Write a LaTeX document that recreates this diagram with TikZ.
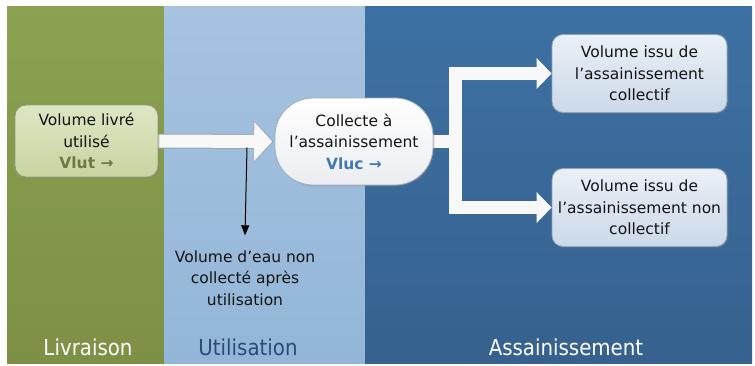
\documentclass[tikz,border=0pt]{standalone}
\usepackage{fontspec}
\setmainfont{DejaVu Sans}
\newfontfamily\labelfont[FakeStretch=0.9]{DejaVu Sans}
\usetikzlibrary{arrows.meta,calc,shadows}
\pgfdeclarelayer{bg}\pgfdeclarelayer{arr}
\pgfsetlayers{bg,arr,main}
\definecolor{greenT}{HTML}{8CA151}
\definecolor{greenB}{HTML}{7D9045}
\definecolor{lblueT}{HTML}{A6C3E0}
\definecolor{lblueB}{HTML}{93B6D8}
\definecolor{dblueT}{HTML}{3D71A3}
\definecolor{dblueB}{HTML}{36618E}
\definecolor{livreT}{HTML}{DDE6C4}
\definecolor{livreB}{HTML}{C8D5A2}
\definecolor{livreE}{HTML}{8E9C78}
\definecolor{collT}{HTML}{FFFFFF}
\definecolor{collB}{HTML}{EBEDF0}
\definecolor{collE}{HTML}{9FAEBF}
\definecolor{boxT}{HTML}{EAF0F6}
\definecolor{boxB}{HTML}{CBD9E9}
\definecolor{boxE}{HTML}{8FA3BA}
\definecolor{vlut}{HTML}{6A7A40}
\definecolor{vluc}{HTML}{4479B3}
\definecolor{utilc}{HTML}{2C4A76}
\definecolor{arrowfill}{HTML}{F8F8F8}
\definecolor{arrowedge}{HTML}{9AA6B2}
\begin{document}
\begin{tikzpicture}[x=1pt,y=-1pt,
  txt/.style={font=\fontsize{15.5}{21.5}\selectfont, align=center, text=black!92},
  shd/.style={drop shadow={opacity=0.3, shadow xshift=1.5pt, shadow yshift=-1.5pt}},
  lbox/.style={txt, shd, draw=livreE, line width=0.8pt, top color=livreT, bottom color=livreB,
    rounded corners=11pt, minimum width=143pt, minimum height=72pt, inner sep=0pt},
  cbox/.style={txt, shd, draw=collE, line width=0.8pt, top color=collT, bottom color=collB,
    rounded corners=38pt, minimum width=158pt, minimum height=87pt, inner sep=0pt},
  rbox/.style={txt, shd, draw=boxE, line width=0.8pt, top color=boxT, bottom color=boxB,
    rounded corners=11pt, minimum width=175pt, minimum height=78pt, inner sep=0pt},
  band/.style={font=\labelfont\fontsize{22}{26}\selectfont, anchor=base, inner sep=0pt},
  flow/.style={line width=13.5pt, color=arrowfill, line join=miter,
    -{Triangle[width=30pt,length=15pt]}},
  thinarrow/.style={line width=1pt, black, -{Triangle[width=8pt,length=10pt]}}
]
\useasboundingbox (0,0) rectangle (755,365);
\begin{pgfonlayer}{bg}
  \fill[white] (0,0) rectangle (755,365);
  \shade[top color=greenT, bottom color=greenB] (7,6) rectangle (164,363);
  \shade[top color=lblueT, bottom color=lblueB] (164,6) rectangle (365,363);
  \shade[top color=dblueT, bottom color=dblueB] (365,6) rectangle (752,363);
\end{pgfonlayer}

\node[lbox] (livre) at (86.5,141) {Volume livré\\utilisé\\{\bfseries\color{vlut}Vlut →}};
\node[cbox] (collecte) at (354,141.5) {Collecte à\\l’assainissement\\{\bfseries\color{vluc}Vluc →}};
\node[rbox] (box1) at (639.5,73.5) {Volume issu de\\l’assainissement\\collectif};
\node[rbox] (box2) at (639.5,207.5) {Volume issu de\\l’assainissement non\\collectif};
\node[txt, inner xsep=0pt, inner ysep=15pt] (nc) at (245,278) {Volume d’eau non\\collecté après\\utilisation};

\node[band, text=white] (lliv) at (88,355) {Livraison};
\node[band, text=utilc] (luti) at (248,355) {Utilisation};
\node[band, text=white] (lass) at (566,355) {Assainissement};

\coordinate (jx) at ([xshift=22pt]collecte.east);
\coordinate (drop) at (247,147.5);

\begin{pgfonlayer}{arr}
  \draw[line width=15pt, color=arrowedge, -{Triangle[width=41pt,length=20pt]}]
    ([xshift=-3pt]livre.east) -- ([xshift=-1pt]collecte.west);
  \draw[line width=13pt, color=arrowfill, -{Triangle[width=38pt,length=18pt]}]
    ([xshift=-3pt]livre.east) -- ([xshift=-2.4pt]collecte.west);
  \draw[flow] ([xshift=-4pt]collecte.east) -- (jx) |- (box1.west);
  \draw[flow] ([xshift=-4pt]collecte.east) -- (jx) |- (box2.west);
\end{pgfonlayer}

\draw[thinarrow] (drop) -- (nc.north);
\end{tikzpicture}
\end{document}
